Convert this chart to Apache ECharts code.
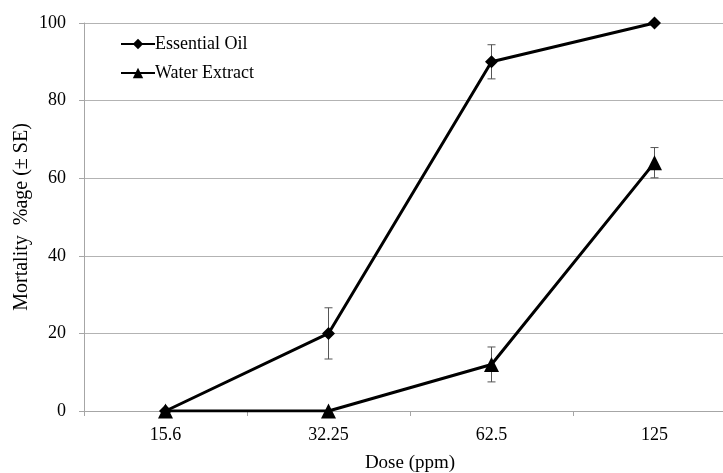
<!DOCTYPE html>
<html>
<head>
<meta charset="utf-8">
<script src="https://cdn.jsdelivr.net/npm/echarts@6/dist/echarts.min.js"></script>
<style>
  html, body { margin: 0; padding: 0; background: #fff; }
  #container { width: 723px; height: 473px; }
</style>
</head>
<body>
<div id="container"></div>
<script>
var doses = ['15.6', '32.25', '62.5', '125'];
var essentialOil = [0, 20, 90, 100];
var essentialOilSE = [0, 6.6, 4.4, 0];
var waterExtract = [0, 0, 12, 64];
var waterExtractSE = [0, 0, 4.5, 3.9];

var font = 'Liberation Serif';

// error bar data: [categoryIndex, low, high]
function errData(vals, se) {
    var res = [];
    for (var i = 0; i < vals.length; i++) {
        if (se[i] > 0) res.push([i, vals[i] - se[i], vals[i] + se[i]]);
    }
    return res;
}

function renderErr(params, api) {
    var x = api.value(0);
    var lo = api.coord([x, api.value(1)]);
    var hi = api.coord([x, api.value(2)]);
    var half = 4;
    var st = { stroke: '#555', lineWidth: 1 };
    return {
        type: 'group',
        children: [
            { type: 'line', shape: { x1: lo[0], y1: lo[1], x2: hi[0], y2: hi[1] }, style: st },
            { type: 'line', shape: { x1: lo[0] - half, y1: lo[1], x2: lo[0] + half, y2: lo[1] }, style: st },
            { type: 'line', shape: { x1: hi[0] - half, y1: hi[1], x2: hi[0] + half, y2: hi[1] }, style: st }
        ]
    };
}

var dom = document.getElementById('container');
var myChart = echarts.init(dom);

var option = {
    animation: false,
    backgroundColor: '#fff',
    grid: { left: 84, width: 652, top: 23, height: 388, outerBoundsMode: 'none', containLabel: false },
    legend: {
        left: 115,
        top: 30,
        orient: 'vertical',
        itemGap: 11,
        itemWidth: 34,
        itemHeight: 13,
        textStyle: { fontFamily: font, fontSize: 18, color: '#000', padding: [0, 0, 0, -5] },
        data: ['Essential Oil', 'Water Extract']
    },
    xAxis: {
        type: 'category',
        data: doses,
        name: 'Dose (ppm)',
        nameLocation: 'middle',
        nameGap: 43,
        nameMoveOverlap: false,
        nameTextStyle: { fontFamily: font, fontSize: 19, color: '#000' },
        axisLine: { lineStyle: { color: '#a6a6a6', width: 1 } },
        axisTick: { show: true, length: 5, inside: false, lineStyle: { color: '#a6a6a6' } },
        axisLabel: { fontFamily: font, fontSize: 18, color: '#000', margin: 15 }
    },
    yAxis: {
        type: 'value',
        min: 0,
        max: 100,
        interval: 20,
        name: 'Mortality  %age (± SE)',
        nameLocation: 'middle',
        nameGap: 52,
        nameMoveOverlap: false,
        nameTextStyle: { fontFamily: font, fontSize: 20, color: '#000' },
        axisLine: { show: true, lineStyle: { color: '#a6a6a6', width: 1 } },
        axisTick: { show: true, length: 5, lineStyle: { color: '#a6a6a6' } },
        axisLabel: { fontFamily: font, fontSize: 18, color: '#000', margin: 18 },
        splitLine: { lineStyle: { color: '#b3b3b3', width: 1 } }
    },
    series: [
        {
            name: 'Essential Oil',
            type: 'line',
            data: essentialOil,
            symbol: 'diamond',
            symbolSize: 13,
            lineStyle: { color: '#000', width: 3 },
            itemStyle: { color: '#000' },
            z: 3
        },
        {
            name: 'Water Extract',
            type: 'line',
            data: waterExtract,
            symbol: 'triangle',
            symbolSize: 15,
            lineStyle: { color: '#000', width: 3 },
            itemStyle: { color: '#000' },
            z: 3
        },
        {
            type: 'custom',
            renderItem: renderErr,
            data: errData(essentialOil, essentialOilSE),
            encode: { x: 0, y: [1, 2] },
            z: 2
        },
        {
            type: 'custom',
            renderItem: renderErr,
            data: errData(waterExtract, waterExtractSE),
            encode: { x: 0, y: [1, 2] },
            z: 2
        }
    ]
};
myChart.setOption(option);
</script>
</body>
</html>
